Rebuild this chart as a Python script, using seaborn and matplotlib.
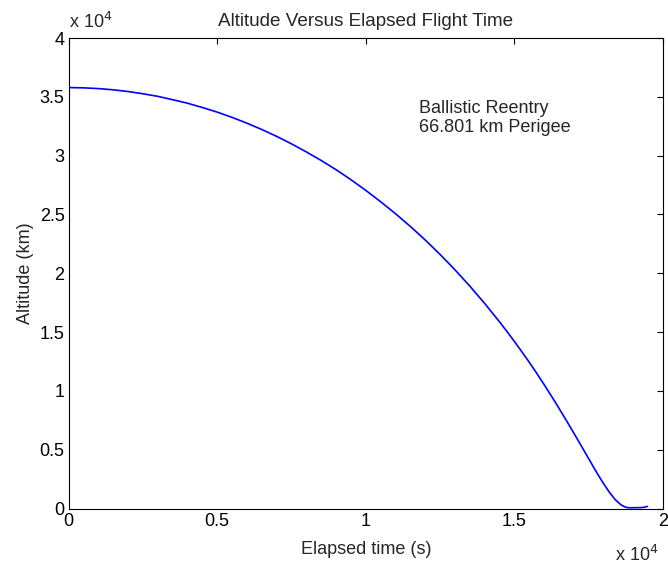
import matplotlib
matplotlib.use("Agg")
import matplotlib.pyplot as plt
import seaborn as sns
import pandas as pd

# Elapsed flight time (s) and altitude above the surface (km)
elapsed_s = [0, 500, 1000, 1500, 2000, 2500, 3000, 3500, 4000, 4500,
             5000, 5500, 6000, 6500, 7000, 7500, 8000, 8500, 9000, 9500,
             10000, 10500, 11000, 11500, 12000, 12500, 13000, 13500, 14000,
             14500, 14750, 15000, 15250, 15500, 15750, 16000, 16250, 16500,
             16750, 17000, 17250, 17500, 17650, 17800, 18000, 18200, 18400,
             18600, 18750, 18856, 19000, 19150, 19300, 19400, 19480]
altitude_km = [35786, 35764, 35700, 35596, 35450, 35261, 35040, 34755, 34456, 34092,
               33700, 33254, 32760, 32223, 31639, 31002, 30317, 29588, 28805, 27956,
               27048, 26086, 25065, 23983, 22832, 21606, 20301, 18915, 17441,
               15877, 15060, 14213, 13337, 12448, 11512, 10550, 9558, 8538,
               7493, 6428, 5344, 4250, 3594, 2948, 2131, 1382, 746,
               293, 106, 67, 67, 70, 85, 120, 180]

x_ticks = [0, 5000, 10000, 15000, 20000]
x_tick_labels = ["0", "0.5", "1", "1.5", "2"]
y_ticks = [0, 5000, 10000, 15000, 20000, 25000, 30000, 35000, 40000]
y_tick_labels = ["0", "0.5", "1", "1.5", "2", "2.5", "3", "3.5", "4"]

title = "Altitude Versus Elapsed Flight Time"
x_label = "Elapsed time (s)"
y_label = "Altitude (km)"
note = "Ballistic Reentry\n66.801 km Perigee"

sns.set_style("white")
plt.rcParams["font.family"] = ["Liberation Sans", "DejaVu Sans"]
fs = 13

df = pd.DataFrame({"t": elapsed_s, "alt": altitude_km})

fig = plt.figure(figsize=(6.68, 5.69), dpi=100)
ax = fig.add_axes([0.1028, 0.1063, 0.8895, 0.8269])

sns.lineplot(data=df, x="t", y="alt", ax=ax, color="#0000ff",
             linewidth=1.2, estimator=None, sort=False)

ax.set_xlim(0, 20000)
ax.set_ylim(0, 40000)
ax.set_xticks(x_ticks)
ax.set_xticklabels(x_tick_labels)
ax.set_yticks(y_ticks)
ax.set_yticklabels(y_tick_labels)
ax.tick_params(direction="in", length=4.5, width=0.8, colors="black",
               labelsize=fs, top=True, right=True, pad=3)

for s in ax.spines.values():
    s.set_visible(True)
    s.set_color("black")
    s.set_linewidth(0.8)

ax.set_title(title, fontsize=13.6, pad=9)
ax.set_xlabel(x_label, fontsize=fs, labelpad=8)
ax.set_ylabel(y_label, fontsize=fs, labelpad=4)

# exponent markers for the scaled axes
ax.text(0.0, 1.012, r"x 10$^{4}$", transform=ax.transAxes, ha="left",
        va="bottom", fontsize=fs)
ax.text(0.992, -0.078, r"x 10$^{4}$", transform=ax.transAxes, ha="right",
        va="top", fontsize=fs)

ax.text(11800, 33200, note, ha="left", va="center", fontsize=fs,
        linespacing=1.1)

fig.savefig("out.png", dpi=100)
